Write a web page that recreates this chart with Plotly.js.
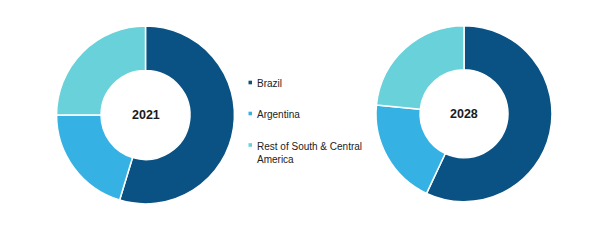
<!DOCTYPE html>
<html>
<head>
<meta charset="utf-8">
<script src="https://cdn.plot.ly/plotly-3.0.1.min.js"></script>
<style>html,body{margin:0;padding:0;background:#fff;}#chart{width:600px;height:246px;}</style>
</head>
<body>
<div id="chart"></div>
<script>
const categories = ["Brazil", "Argentina", "Rest of South & Central America"];
const legendLabels = ["Brazil", "Argentina", "Rest of South & Central<br>America"];
const years = ["2021", "2028"];
const share2021 = [54.7, 20.3, 25.0];
const share2028 = [57.0, 19.6, 23.4];
const colors = ["#0a5283", "#36b1e3", "#68d1da"];

const domains = [
  {x: [0.094, 0.391], y: [0.171, 0.894]},
  {x: [0.6267, 0.92], y: [0.180, 0.8955]}
];
const seriesList = [share2021, share2028];

const traces = seriesList.map((vals, i) => ({
  type: 'pie',
  labels: categories,
  values: vals,
  hole: 0.5,
  sort: false,
  direction: 'clockwise',
  rotation: 0,
  textinfo: 'none',
  hoverinfo: 'label+percent',
  showlegend: false,
  marker: {colors: colors, line: {color: '#ffffff', width: 1.5}},
  domain: domains[i]
}));

const annotations = [];
const shapes = [];
// centre labels
years.forEach((y, i) => {
  annotations.push({
    text: '<b>' + y + '</b>', showarrow: false, xref: 'paper', yref: 'paper',
    x: (domains[i].x[0] + domains[i].x[1]) / 2,
    y: (domains[i].y[0] + domains[i].y[1]) / 2,
    xanchor: 'center', yanchor: 'middle',
    font: {family: 'Liberation Sans, Arial, sans-serif', size: 12.5, color: '#1a1a1a'}
  });
});
// legend
const legendY = [82.5, 113.5, 145];
legendLabels.forEach((lab, i) => {
  const yp = 1 - legendY[i] / 246;
  annotations.push({
    text: lab, showarrow: false, xref: 'paper', yref: 'paper',
    x: 255 / 600, y: yp, xanchor: 'left', yanchor: 'top', yshift: 6.5, align: 'left',
    font: {family: 'Liberation Sans, Arial, sans-serif', size: 10, color: '#222'}
  });
  shapes.push({
    type: 'rect', xref: 'paper', yref: 'paper', line: {width: 0},
    fillcolor: colors[i],
    x0: 248.5 / 600, x1: 252 / 600,
    y0: 1 - (legendY[i] + 1.8) / 246, y1: 1 - (legendY[i] - 1.8) / 246
  });
});

const layout = {
  width: 600, height: 246,
  margin: {l: 0, r: 0, t: 0, b: 0},
  paper_bgcolor: '#ffffff',
  showlegend: false,
  annotations: annotations,
  shapes: shapes
};

Plotly.newPlot('chart', traces, layout, {displayModeBar: false, staticPlot: true});
</script>
</body>
</html>
